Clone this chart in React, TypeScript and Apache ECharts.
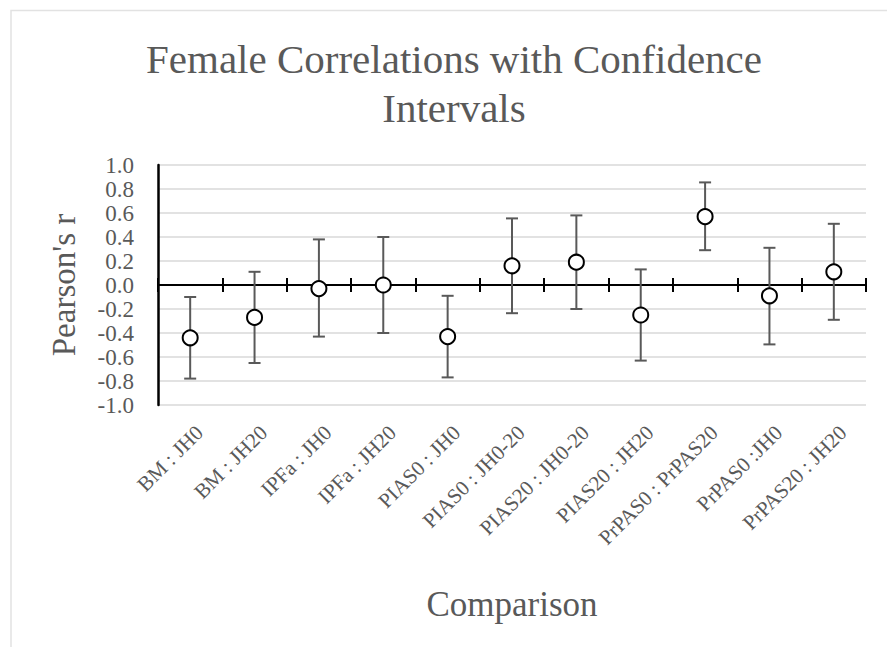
import React, { useEffect, useRef } from "react";
import * as echarts from "echarts";

const categories = [
  "BM : JH0",
  "BM : JH20",
  "IPFa : JH0",
  "IPFa : JH20",
  "PIAS0 : JH0",
  "PIAS0 : JH0-20",
  "PIAS20 : JH0-20",
  "PIAS20 : JH20",
  "PrPAS0 : PrPAS20",
  "PrPAS0 :JH0",
  "PrPAS20 : JH20",
];
const pearsonR = [-0.44, -0.27, -0.03, 0.0, -0.43, 0.16, 0.19, -0.25, 0.57, -0.09, 0.11];
const ciLower = [-0.78, -0.65, -0.43, -0.4, -0.77, -0.235, -0.2, -0.63, 0.29, -0.495, -0.29];
const ciUpper = [-0.1, 0.11, 0.38, 0.4, -0.09, 0.555, 0.58, 0.13, 0.855, 0.31, 0.51];
const yTicks = { min: -1, max: 1, interval: 0.2 };

const FONT = "'Liberation Serif', 'DejaVu Serif', serif";
const TEXT = "#595959";

export default function App() {
  const ref = useRef<HTMLDivElement>(null);
  useEffect(() => {
    if (!ref.current) return;
    const chart = echarts.init(ref.current, null, { renderer: "svg" });
    const errData = categories.map((_, i) => [i, ciLower[i], ciUpper[i]]);
    const option: any = {
      animation: false,
      backgroundColor: "#fff",
      textStyle: { fontFamily: FONT },
      title: {
        text: "Female Correlations with Confidence\nIntervals",
        left: 449,
        textAlign: "center",
        top: 29,
        textStyle: {
          fontFamily: FONT,
          fontSize: 41,
          fontWeight: "normal",
          color: TEXT,
          lineHeight: 49,
        },
      },
      graphic: [
        {
          type: "rect",
          shape: { x: 11, y: 10.5, width: 1000, height: 1000 },
          style: { fill: "none", stroke: "#e2e2e2", lineWidth: 1.5 },
          silent: true,
          z: -10,
        },
      ],
      grid: { left: 158, right: 21, top: 165, bottom: 242, containLabel: false },
      xAxis: [
        {
          type: "category",
          data: categories,
          position: "bottom",
          boundaryGap: true,
          axisLine: { show: false, onZero: false },
          axisTick: { show: false },
          splitLine: { show: false },
          axisLabel: {
            interval: 0,
            rotate: 45,
            margin: 15,
            verticalAlign: "top",
            lineHeight: 26,
            fontFamily: FONT,
            fontSize: 21,
            color: TEXT,
          },
          name: "Comparison",
          nameLocation: "middle",
          nameGap: 182,
          nameTextStyle: { fontFamily: FONT, fontSize: 35, color: TEXT },
        },
        {
          type: "category",
          data: categories,
          position: "bottom",
          boundaryGap: true,
          axisLine: { show: true, onZero: true, onZeroAxisIndex: 0, lineStyle: { color: "#000", width: 2 } },
          axisTick: { show: true, interval: 0, length: 7, inside: false, lineStyle: { color: "#000", width: 2 } },
          axisLabel: { show: false },
          splitLine: { show: false },
        },
        {
          type: "category",
          data: categories,
          position: "top",
          boundaryGap: true,
          axisLine: { show: false, onZero: true, onZeroAxisIndex: 0 },
          axisTick: { show: true, interval: 0, length: 7, inside: false, lineStyle: { color: "#000", width: 2 } },
          axisLabel: { show: false },
          splitLine: { show: false },
        },
      ],
      yAxis: {
        type: "value",
        min: yTicks.min,
        max: yTicks.max,
        interval: yTicks.interval,
        axisLine: { show: true, onZero: false, lineStyle: { color: "#000", width: 2.5 } },
        axisTick: { show: false },
        axisLabel: {
          margin: 24,
          fontFamily: FONT,
          fontSize: 23,
          color: TEXT,
          formatter: (v: number) => v.toFixed(1),
        },
        splitLine: { show: true, lineStyle: { color: "#d9d9d9", width: 1.5 } },
        name: "Pearson's r",
        nameLocation: "middle",
        nameGap: 78,
        nameRotate: 90,
        nameTextStyle: { fontFamily: FONT, fontSize: 33, color: TEXT },
      },
      series: [
        {
          type: "custom",
          xAxisIndex: 0,
          data: errData,
          z: 2,
          renderItem: (params: any, api: any) => {
            const i = api.value(0);
            const lo = api.coord([i, api.value(1)]);
            const hi = api.coord([i, api.value(2)]);
            const w = 6;
            const st = { stroke: "#595959", lineWidth: 2 };
            return {
              type: "group",
              children: [
                { type: "line", shape: { x1: lo[0], y1: lo[1], x2: hi[0], y2: hi[1] }, style: st },
                { type: "line", shape: { x1: lo[0] - w, y1: lo[1], x2: lo[0] + w, y2: lo[1] }, style: st },
                { type: "line", shape: { x1: hi[0] - w, y1: hi[1], x2: hi[0] + w, y2: hi[1] }, style: st },
              ],
            };
          },
        },
        {
          type: "scatter",
          xAxisIndex: 0,
          data: pearsonR,
          symbol: "circle",
          symbolSize: 15,
          z: 5,
          itemStyle: { color: "#fff", borderColor: "#000", borderWidth: 2, opacity: 1 },
        },
      ],
    };
    chart.setOption(option);
    return () => chart.dispose();
  }, []);
  return (
    <div
      ref={ref}
      style={{ position: "fixed", left: 0, top: 0, width: 887, height: 647 }}
    />
  );
}
